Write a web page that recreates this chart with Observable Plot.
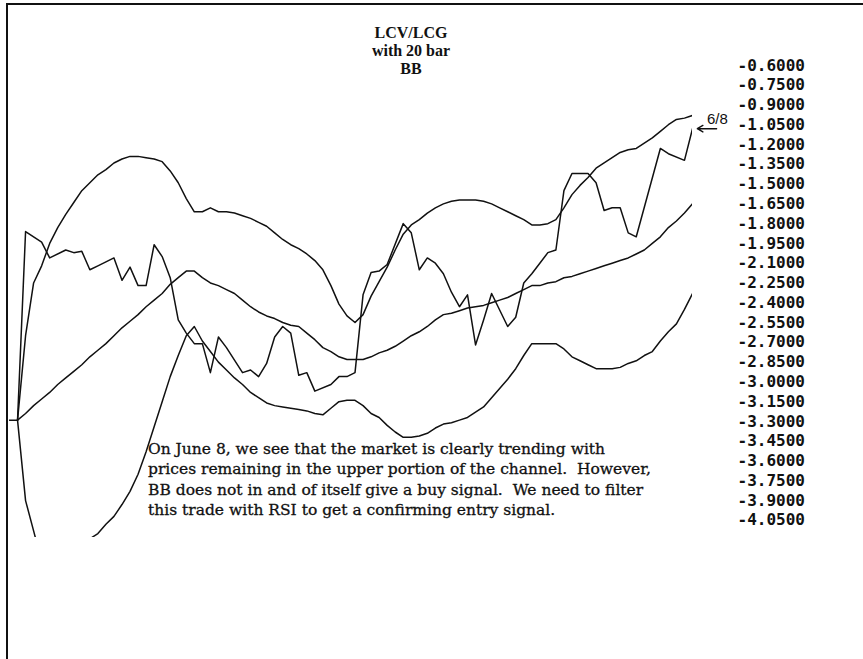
<!DOCTYPE html>
<html>
<head>
<meta charset="utf-8">
<script src="https://cdn.jsdelivr.net/npm/d3@7"></script>
<script src="https://cdn.jsdelivr.net/npm/@observablehq/plot@0.6"></script>
<style>
  html, body { margin: 0; padding: 0; background: #fff; }
  #wrap { position: relative; width: 863px; height: 659px; overflow: hidden; background: #fff; }
  #frame { position: absolute; left: 6px; top: 3px; right: -4px; bottom: -4px;
           border-top: 2px solid #111; border-left: 2px solid #111; pointer-events: none; }
  #title { position: absolute; left: 311px; width: 200px; top: 24px; text-align: center;
           font-family: "Liberation Serif", serif; font-weight: bold; font-size: 16px; line-height: 18px; color: #111; }
  #note { position: absolute; left: 148px; top: 439px; white-space: nowrap;
          font-family: "DejaVu Serif", serif; font-size: 15.5px; line-height: 20.3px; color: #111;
          -webkit-text-stroke: 0.3px #111; }
  #chart { position: absolute; left: 0; top: 0; }
</style>
</head>
<body>
<div id="wrap">
  <div id="chart"></div>
  <div id="frame"></div>
  <div id="title"></div>
  <div id="note"></div>
</div>
<script>
// Title and annotation text
const titleLines = ["LCV/LCG", "with 20 bar", "BB"];
const noteLines = [
  "On June 8, we see that the market is clearly trending with",
  "prices remaining in the upper portion of the channel.  However,",
  "BB does not in and of itself give a buy signal.  We need to filter",
  "this trade with RSI to get a confirming entry signal."
];

// Y-axis tick labels
const yTicks = [-0.60, -0.75, -0.90, -1.05, -1.20, -1.35, -1.50, -1.65, -1.80, -1.95, -2.10, -2.25,
                -2.40, -2.55, -2.70, -2.85, -3.00, -3.15, -3.30, -3.45, -3.60, -3.75, -3.90, -4.05];

// Price (LCV/LCG ratio) — bar index and value
const priceBars = [0, 1, 2, 4, 5, 7, 8, 9, 10, 11, 12, 13, 14, 15, 16, 17, 18, 19, 20, 21, 22, 23, 24, 25,
                   26, 27, 29, 30, 31, 32, 33, 34, 35, 36, 37, 38, 40, 41, 42, 43, 44, 45, 46, 47, 49, 50,
                   51, 52, 53, 54, 55, 56, 57, 58, 59, 60, 62, 63, 64, 65, 66, 67, 68, 69, 70, 72, 73, 74,
                   75, 76, 77, 78, 81, 82, 84, 85];
const priceValues = [-3.29, -3.29, -1.86, -1.94, -2.06, -2.00, -2.02, -2.01, -2.15, -2.12, -2.09, -2.06,
                     -2.23, -2.13, -2.27, -2.27, -1.96, -2.05, -2.21, -2.53, -2.63, -2.71, -2.71, -2.93,
                     -2.66, -2.74, -2.93, -2.91, -2.96, -2.86, -2.66, -2.58, -2.63, -2.95, -2.93, -3.07,
                     -3.02, -2.96, -2.96, -2.93, -2.34, -2.17, -2.16, -2.11, -1.80, -1.87, -2.15, -2.06,
                     -2.10, -2.18, -2.32, -2.43, -2.34, -2.72, -2.53, -2.33, -2.58, -2.51, -2.25, -2.18,
                     -2.10, -2.02, -2.00, -1.55, -1.42, -1.42, -1.49, -1.70, -1.68, -1.68, -1.87, -1.90,
                     -1.23, -1.27, -1.32, -1.08];

// Bollinger bands (20 bar), bars 1..85
const bandBars = d3.range(1, 86);
const upperBand = [-3.29, -2.65, -2.25, -2.12, -1.95, -1.83, -1.73, -1.64, -1.55, -1.49, -1.43, -1.39,
                   -1.34, -1.31, -1.29, -1.29, -1.30, -1.31, -1.33, -1.40, -1.49, -1.61, -1.71, -1.71,
                   -1.68, -1.71, -1.71, -1.72, -1.74, -1.76, -1.79, -1.82, -1.87, -1.92, -1.96, -1.99,
                   -2.03, -2.08, -2.15, -2.27, -2.41, -2.50, -2.55, -2.49, -2.35, -2.24, -2.13, -2.00,
                   -1.88, -1.81, -1.77, -1.72, -1.68, -1.65, -1.63, -1.62, -1.62, -1.62, -1.63, -1.65,
                   -1.68, -1.71, -1.74, -1.77, -1.81, -1.81, -1.80, -1.77, -1.68, -1.58, -1.51, -1.45,
                   -1.38, -1.34, -1.30, -1.26, -1.24, -1.23, -1.19, -1.15, -1.10, -1.05, -1.01, -1.00,
                   -0.98];
const middleBand = [-3.29, -3.24, -3.18, -3.13, -3.08, -3.02, -2.97, -2.92, -2.87, -2.81, -2.76, -2.71,
                    -2.65, -2.59, -2.54, -2.49, -2.43, -2.38, -2.33, -2.26, -2.21, -2.16, -2.16, -2.21,
                    -2.25, -2.27, -2.30, -2.33, -2.38, -2.43, -2.47, -2.50, -2.52, -2.55, -2.57, -2.58,
                    -2.63, -2.68, -2.74, -2.77, -2.81, -2.83, -2.83, -2.83, -2.81, -2.78, -2.76, -2.73,
                    -2.69, -2.65, -2.62, -2.58, -2.53, -2.49, -2.48, -2.46, -2.44, -2.43, -2.42, -2.40,
                    -2.38, -2.36, -2.33, -2.30, -2.27, -2.27, -2.25, -2.24, -2.21, -2.20, -2.18, -2.16,
                    -2.14, -2.12, -2.10, -2.08, -2.06, -2.03, -2.00, -1.95, -1.90, -1.83, -1.78, -1.72,
                    -1.65];
const lowerBand = [-3.29, -3.90, -4.13, -4.36, -4.45, -4.48, -4.46, -4.40, -4.30, -4.19, -4.15, -4.08,
                   -4.02, -3.93, -3.83, -3.70, -3.53, -3.34, -3.15, -2.96, -2.80, -2.65, -2.58, -2.69,
                   -2.77, -2.85, -2.91, -2.97, -3.02, -3.08, -3.12, -3.16, -3.18, -3.19, -3.20, -3.21,
                   -3.22, -3.24, -3.25, -3.20, -3.15, -3.14, -3.14, -3.18, -3.24, -3.27, -3.33, -3.38,
                   -3.42, -3.42, -3.41, -3.39, -3.35, -3.32, -3.31, -3.29, -3.27, -3.23, -3.19, -3.12,
                   -3.05, -2.98, -2.90, -2.80, -2.71, -2.71, -2.71, -2.71, -2.75, -2.81, -2.84, -2.87,
                   -2.90, -2.90, -2.90, -2.89, -2.86, -2.84, -2.80, -2.77, -2.69, -2.62, -2.56, -2.45,
                   -2.33];

// "6/8" marker (bar of June 8 and arrow tail)
const markLabel = "6/8";
const markBar = 85;
const markTailBar = 88;
const markValue = -1.08;

const price = priceBars.map((b, i) => ({bar: b, value: priceValues[i]}));
const bands = [
  ...bandBars.map((b, i) => ({bar: b, value: upperBand[i], band: "upper"})),
  ...bandBars.map((b, i) => ({bar: b, value: middleBand[i], band: "middle"})),
  ...bandBars.map((b, i) => ({bar: b, value: lowerBand[i], band: "lower"}))
];

const lineStyle = {stroke: "#111", strokeWidth: 1.5, clip: true, strokeLinejoin: "round"};

const chart = Plot.plot({
  width: 863,
  height: 659,
  marginLeft: 9,
  marginRight: 171,
  marginTop: 0,
  marginBottom: 122,
  x: {domain: [0, 85], axis: null},
  y: {domain: [-4.18, -0.108], axis: null},
  style: {background: "transparent", overflow: "visible"},
  marks: [
    Plot.line(bands, {x: "bar", y: "value", z: "band", ...lineStyle}),
    Plot.line(price, {x: "bar", y: "value", ...lineStyle}),
    Plot.axisY(yTicks, {
      anchor: "right", tickSize: 0, tickPadding: 45, label: null,
      tickFormat: d => d.toFixed(4),
      fontFamily: "DejaVu Sans Mono", fontSize: 16, fontWeight: "bold", fill: "#111"
    }),
    Plot.arrow([{x1: markTailBar, x2: markBar + 0.6, y: markValue}], {
      x1: "x1", x2: "x2", y1: "y", y2: "y", stroke: "#111", strokeWidth: 1.4,
      headLength: 8, bend: 0
    }),
    Plot.text([markLabel], {
      x: markBar + 1.8, y: markValue, text: d => d, textAnchor: "start", dy: -9,
      fontFamily: "Liberation Sans", fontSize: 15, fill: "#111"
    })
  ]
});
document.getElementById("chart").appendChild(chart);

document.getElementById("title").innerHTML = titleLines.map(t => `<div>${t}</div>`).join("");
document.getElementById("note").innerHTML = noteLines.map(t => `<div>${t.replace(/  /g, "&nbsp; ")}</div>`).join("");
</script>
</body>
</html>
